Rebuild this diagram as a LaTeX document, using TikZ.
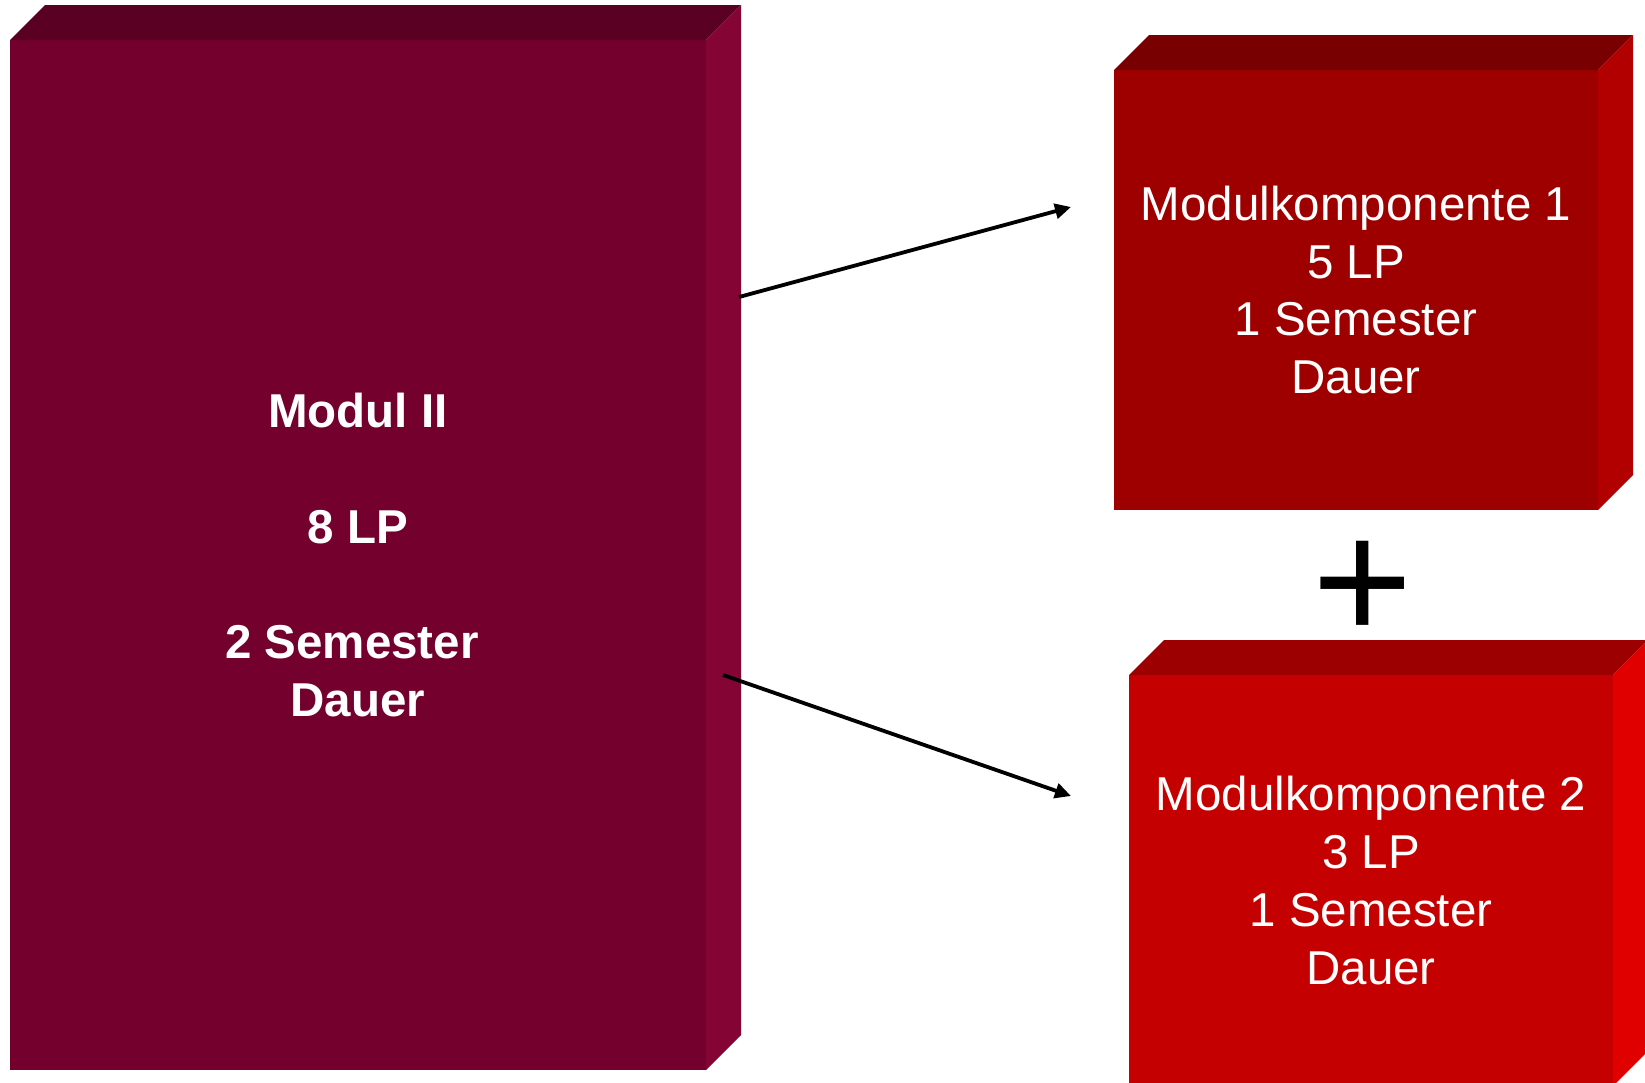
\documentclass[tikz,border=0pt]{standalone}
\usepackage{fontspec}
\setmainfont{Liberation Sans}
\usetikzlibrary{arrows.meta,calc}
\definecolor{lfront}{RGB}{115,0,45}
\definecolor{ltop}{RGB}{90,0,35}
\definecolor{lside}{RGB}{132,5,52}
\definecolor{afront}{RGB}{158,0,0}
\definecolor{atop}{RGB}{120,0,0}
\definecolor{aside}{RGB}{178,0,0}
\definecolor{bfront}{RGB}{196,0,0}
\definecolor{btop}{RGB}{156,0,0}
\definecolor{bside}{RGB}{224,0,0}
\begin{document}
\begin{tikzpicture}[x=1pt,y=-1pt,
  face/.style={draw=none, inner sep=0pt, outer sep=0pt, anchor=north west},
  boxtext/.style={text=white, align=center, inner sep=0pt, font=\fontsize{47.5}{57.7}\selectfont},
  conn/.style={line width=3.8pt, -{Triangle[length=16pt,width=15pt]}}]
\useasboundingbox (0,0) rectangle (1645,1082);
\fill[white] (0,0) rectangle (1645,1082);
% left box
\node[face, fill=lfront, minimum width=696pt, minimum height=1030pt] (modul) at (10,40) {};
\fill[ltop] (modul.north west) -- ++(35,-35) -- ($(modul.north east)+(35,-35)$) -- (modul.north east) -- cycle;
\fill[lside] (modul.north east) -- ++(35,-35) -- ($(modul.south east)+(35,-35)$) -- (modul.south east) -- cycle;
\node[boxtext, font=\fontsize{47.5}{57.7}\selectfont\bfseries] (modultext) at (modul.center) {Modul II\\[57.7pt]8 LP\\[57.7pt]2 Semester\makebox[12pt]{}\\Dauer};
% component 1
\node[face, fill=afront, minimum width=484pt, minimum height=440pt] (komp1) at (1114,70) {};
\fill[atop] (komp1.north west) -- ++(35,-35) -- ($(komp1.north east)+(35,-35)$) -- (komp1.north east) -- cycle;
\fill[aside] (komp1.north east) -- ++(35,-35) -- ($(komp1.south east)+(35,-35)$) -- (komp1.south east) -- cycle;
\node[boxtext] (komp1text) at (komp1.center) {Modulkomponente 1\\5 LP\\1 Semester\\Dauer};
% component 2
\node[face, fill=bfront, minimum width=484pt, minimum height=411pt] (komp2) at (1129,675) {};
\fill[btop] (komp2.north west) -- ++(35,-35) -- ($(komp2.north east)+(35,-35)$) -- (komp2.north east) -- cycle;
\fill[bside] (komp2.north east) -- ++(35,-35) -- ($(komp2.south east)+(35,-35)$) -- (komp2.south east) -- cycle;
\node[boxtext] (komp2text) at (komp2.center) {Modulkomponente 2\\3 LP\\1 Semester\\Dauer};
% plus
\node[inner sep=0pt, font=\fontsize{172}{172}\selectfont] (plus) at (1362.5,591) {+};
% arrows
\coordinate (a1s) at (739,297);
\coordinate (a1e) at (1071,207);
\coordinate (a2s) at (723,675);
\coordinate (a2e) at (1071,796);
\draw[conn] (a1s) -- (a1e);
\draw[conn] (a2s) -- (a2e);
\end{tikzpicture}
\end{document}
